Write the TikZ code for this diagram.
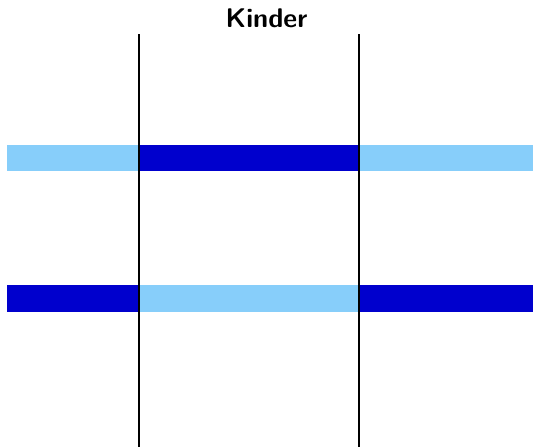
\documentclass[tikz,border=0pt]{standalone}
\usepackage{xcolor}
\usepackage{tikz}
\definecolor{lightbar}{RGB}{135,206,250}
\definecolor{darkbar}{RGB}{0,0,205}
\begin{document}
\begin{tikzpicture}[x=1pt, y=-1pt, font=\sffamily\bfseries\fontsize{27}{30}\selectfont]
\tikzset{bar/.style={line width=0pt}, border/.style={black, line width=2.4pt}}
\useasboundingbox (0,0) rectangle (533,447);
\fill[lightbar] (7,145) rectangle (139,171);
\fill[darkbar] (139,145) rectangle (359,171);
\fill[lightbar] (359,145) rectangle (533,171);
\fill[darkbar] (7,285) rectangle (139,312);
\fill[lightbar] (139,285) rectangle (359,312);
\fill[darkbar] (359,285) rectangle (533,312);
\draw[border] (139,34) -- (139,447);
\draw[border] (359,34) -- (359,447);
\node (title) at (266.5,18) {Kinder};
\end{tikzpicture}
\end{document}
